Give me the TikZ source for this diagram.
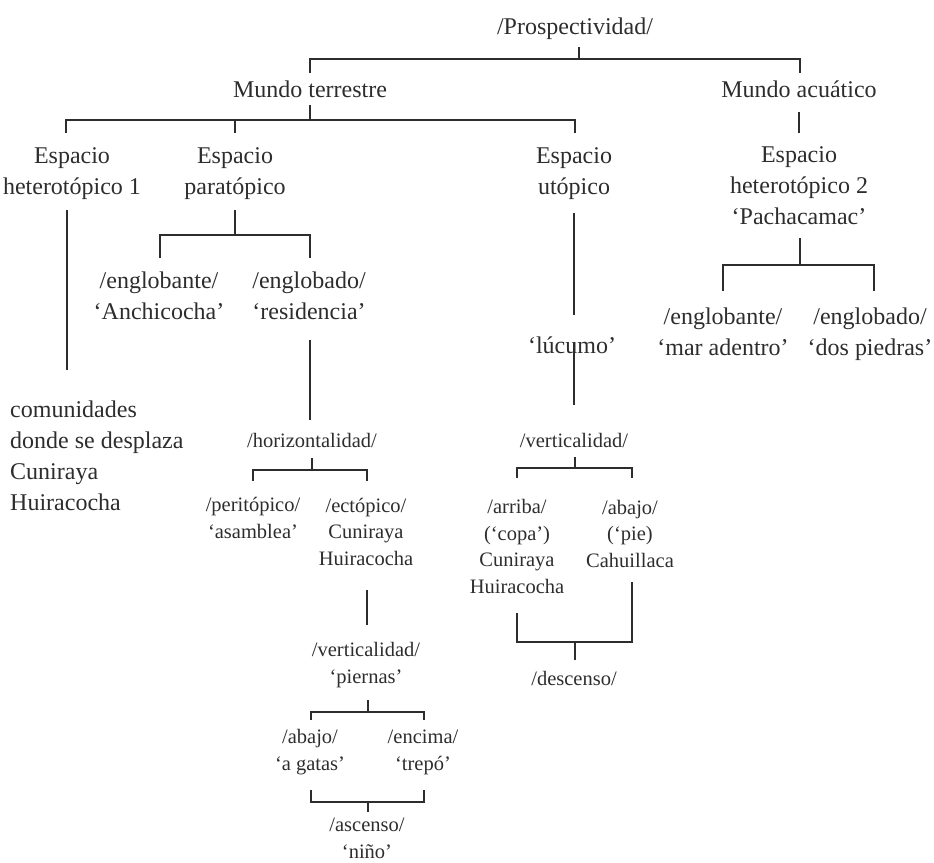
\documentclass[tikz,border=0pt]{standalone}
\usepackage{fontspec}
\setmainfont{Liberation Serif}
\definecolor{ink}{RGB}{45,45,45}
\begin{document}
\begin{tikzpicture}[x=1pt,y=-1pt,
  big/.style={font=\fontsize{24}{31}\selectfont, anchor=base, inner sep=0pt, align=center, text=ink},
  small/.style={font=\fontsize{20.5}{26.5}\selectfont, anchor=base, inner sep=0pt, align=center, text=ink},
  link/.style={draw=ink, line width=1.1pt}]
\useasboundingbox (0,0) rectangle (934,862);

% ---------- labels (each placed by the baseline of its last line) ----------
\node[big] (pros) at (575,34) {/Prospectividad/};
\node[big] (terr) at (310,97) {Mundo terrestre};
\node[big] (acua) at (799,97) {Mundo acuático};
\node[big] (het1) at (72,194) {Espacio\\heterotópico 1};
\node[big] (para) at (235,194) {Espacio\\paratópico};
\node[big] (utop) at (574,194) {Espacio\\utópico};
\node[big] (het2) at (799,224) {Espacio\\heterotópico 2\\‘Pachacamac’};
\node[big] (engA) at (159,319) {/englobante/\\‘Anchicocha’};
\node[big] (engB) at (309,319) {/englobado/\\‘residencia’};
\node[big] (engC) at (723,355) {/englobante/\\‘mar adentro’};
\node[big] (engD) at (870,355) {/englobado/\\‘dos piedras’};
\node[big] (lucu) at (572,353) {‘lúcumo’};
\node[big, anchor=base west, align=left] (comu) at (10,510)
  {comunidades\\donde se desplaza\\Cuniraya\\Huiracocha};

\node[small] (hori) at (312,447) {/horizontalidad/};
\node[small] (verA) at (574,447) {/verticalidad/};
\node[small] (peri) at (253,538) {/peritópico/\\‘asamblea’};
\node[small] (ecto) at (366,565) {/ectópico/\\Cuniraya\\Huiracocha};
\node[small] (arri) at (517,593) {/arriba/\\(‘copa’)\\Cuniraya\\Huiracocha};
\node[small] (abaB) at (630,567) {/abajo/\\(‘pie)\\Cahuillaca};
\node[small] (desc) at (574,685) {/descenso/};
\node[small] (verB) at (366,683) {/verticalidad/\\‘piernas’};
\node[small] (abaA) at (310,770) {/abajo/\\‘a gatas’};
\node[small] (enci) at (423,770) {/encima/\\‘trepó’};
\node[small] (asce) at (367,858) {/ascenso/\\‘niño’};

% ---------- junction points ----------
% /Prospectividad/
\coordinate (pS) at (579,47);  \coordinate (pJ) at (579,59);
\coordinate (pL) at (310,59);  \coordinate (pR) at (800,59);
\coordinate (pLd) at (310,73); \coordinate (pRd) at (800,73);
% Mundo terrestre
\coordinate (tS) at (310,105); \coordinate (tJ) at (310,120);
\coordinate (tL) at (66,120);  \coordinate (tM) at (235,120); \coordinate (tR) at (575,120);
\coordinate (tLd) at (66,133); \coordinate (tMd) at (235,133); \coordinate (tRd) at (575,133);
% Mundo acuatico
\coordinate (aS) at (799,112); \coordinate (aE) at (799,133);
% heterotopico 1
\coordinate (h1S) at (67,210); \coordinate (h1E) at (67,370);
% paratopico
\coordinate (rS) at (235,210); \coordinate (rJ) at (235,235);
\coordinate (rL) at (160,235); \coordinate (rR) at (310,235);
\coordinate (rLd) at (160,258); \coordinate (rRd) at (310,258);
% utopico
\coordinate (uS) at (574,213); \coordinate (uE) at (574,315);
% heterotopico 2
\coordinate (h2S) at (800,238); \coordinate (h2J) at (800,265);
\coordinate (h2L) at (723,265); \coordinate (h2R) at (874,265);
\coordinate (h2Ld) at (723,291); \coordinate (h2Rd) at (874,291);
% residencia
\coordinate (eS) at (310,340); \coordinate (eE) at (310,420);
% lucumo
\coordinate (lS) at (574,343); \coordinate (lE) at (574,405);
% horizontalidad
\coordinate (hS) at (312,458); \coordinate (hJ) at (312,470);
\coordinate (hL) at (253,470); \coordinate (hR) at (367,470);
\coordinate (hLd) at (253,481); \coordinate (hRd) at (367,481);
% verticalidad (right)
\coordinate (vS) at (575,457); \coordinate (vJ) at (575,468);
\coordinate (vL) at (517,468); \coordinate (vR) at (632,468);
\coordinate (vLd) at (517,478); \coordinate (vRd) at (632,478);
% ectopico
\coordinate (cS) at (367,590); \coordinate (cE) at (367,625);
% verticalidad (left)
\coordinate (wS) at (368,700); \coordinate (wJ) at (368,712);
\coordinate (wL) at (311,712); \coordinate (wR) at (424,712);
\coordinate (wLd) at (311,720); \coordinate (wRd) at (424,720);
% ascenso
\coordinate (sLu) at (311,790); \coordinate (sRu) at (424,790);
\coordinate (sL) at (311,802);  \coordinate (sR) at (424,802);
\coordinate (sJ) at (368,802);  \coordinate (sE) at (368,812);
% descenso
\coordinate (dLu) at (517,613); \coordinate (dRu) at (632,582);
\coordinate (dL) at (517,642);  \coordinate (dR) at (632,642);
\coordinate (dJ) at (575,642);  \coordinate (dE) at (575,660);

% ---------- connectors ----------
\draw[link] (pS) -- (pJ) (pLd) -- (pL) -- (pR) -- (pRd);
\draw[link] (tS) -- (tJ) (tLd) -- (tL) -- (tR) -- (tRd) (tM) -- (tMd);
\draw[link] (aS) -- (aE);
\draw[link] (h1S) -- (h1E);
\draw[link] (rS) -- (rJ) (rLd) -- (rL) -- (rR) -- (rRd);
\draw[link] (uS) -- (uE);
\draw[link] (h2S) -- (h2J) (h2Ld) -- (h2L) -- (h2R) -- (h2Rd);
\draw[link] (eS) -- (eE);
\draw[link] (lS) -- (lE);
\draw[link] (hS) -- (hJ) (hLd) -- (hL) -- (hR) -- (hRd);
\draw[link] (vS) -- (vJ) (vLd) -- (vL) -- (vR) -- (vRd);
\draw[link] (cS) -- (cE);
\draw[link] (wS) -- (wJ) (wLd) -- (wL) -- (wR) -- (wRd);
\draw[link] (sLu) -- (sL) -- (sR) -- (sRu) (sJ) -- (sE);
\draw[link] (dLu) -- (dL) -- (dR) -- (dRu) (dJ) -- (dE);
\end{tikzpicture}
\end{document}
